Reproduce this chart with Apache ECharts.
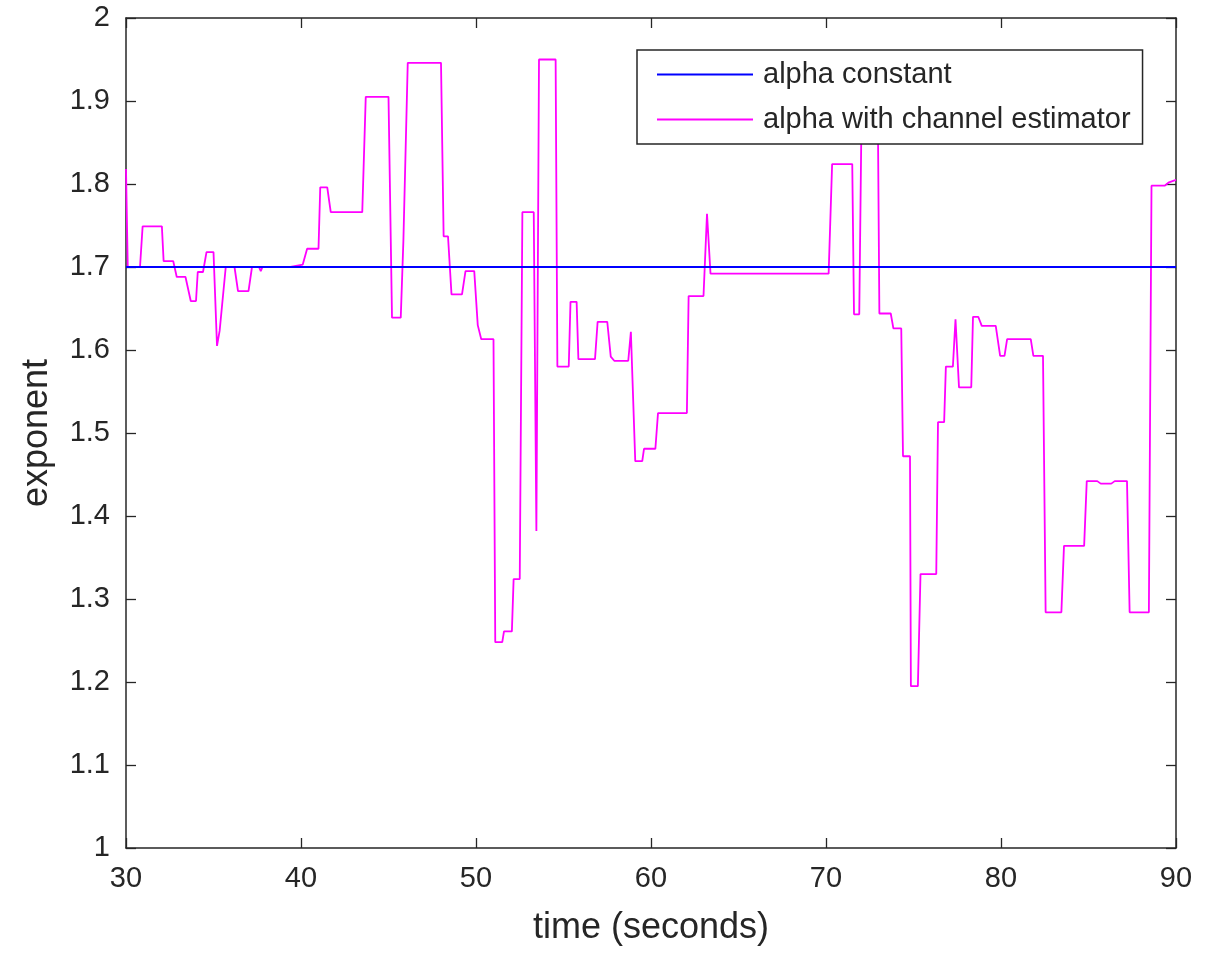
<!DOCTYPE html>
<html>
<head>
<meta charset="utf-8">
<title>exponent vs time</title>
<script src="https://cdn.jsdelivr.net/npm/echarts@6/dist/echarts.min.js"></script>
<style>
  html, body { margin: 0; padding: 0; background: #fff; }
  #main { width: 1217px; height: 953px; }
</style>
</head>
<body>
<div id="main"></div>
<script>
// time axis (seconds) and estimated exponent
const timeSec = [
  30.0, 30.1, 30.8, 30.95, 32.05, 32.15, 32.7, 32.9, 33.4, 33.7,
  34.0, 34.1, 34.4, 34.6, 35.0, 35.2, 35.35, 35.7, 36.2, 36.4,
  37.0, 37.2, 37.6, 37.7, 37.8, 39.4, 40.1, 40.35, 41.0, 41.1,
  41.5, 41.7, 43.5, 43.7, 45.0, 45.2, 45.7, 45.85, 46.1, 48.0,
  48.15, 48.4, 48.6, 49.2, 49.4, 49.9, 50.1, 50.3, 51.0, 51.1,
  51.5, 51.6, 52.05, 52.15, 52.5, 52.65, 53.3, 53.45, 53.6, 54.55,
  54.65, 55.3, 55.4, 55.75, 55.85, 56.8, 56.95, 57.5, 57.7, 57.9,
  58.7, 58.85, 58.95, 59.1, 59.5, 59.6, 60.25, 60.4, 62.05, 62.15,
  63.0, 63.2, 63.4, 70.15, 70.35, 71.5, 71.6, 71.9, 72.05, 72.95,
  73.05, 73.7, 73.85, 74.3, 74.4, 74.8, 74.85, 75.25, 75.4, 76.3,
  76.4, 76.75, 76.85, 77.25, 77.4, 77.6, 78.3, 78.4, 78.7, 78.9,
  79.7, 79.95, 80.2, 80.35, 81.7, 81.85, 82.4, 82.55, 83.45, 83.6,
  84.75, 84.9, 85.5, 85.7, 86.3, 86.5, 87.2, 87.35, 88.45, 88.6,
  89.35, 89.6, 90.0
];
const alphaEst = [
  1.818, 1.700, 1.700, 1.749, 1.749, 1.707, 1.707, 1.688, 1.688, 1.659,
  1.659, 1.694, 1.694, 1.718, 1.718, 1.605, 1.623, 1.700, 1.700, 1.671,
  1.671, 1.700, 1.700, 1.695, 1.700, 1.700, 1.703, 1.722, 1.722, 1.796,
  1.796, 1.766, 1.766, 1.905, 1.905, 1.639, 1.639, 1.731, 1.946, 1.946,
  1.737, 1.737, 1.667, 1.667, 1.695, 1.695, 1.630, 1.613, 1.613, 1.248,
  1.248, 1.261, 1.261, 1.324, 1.324, 1.766, 1.766, 1.382, 1.950, 1.950,
  1.580, 1.580, 1.658, 1.658, 1.589, 1.589, 1.634, 1.634, 1.592, 1.587,
  1.587, 1.622, 1.622, 1.466, 1.466, 1.481, 1.481, 1.524, 1.524, 1.665,
  1.665, 1.764, 1.692, 1.692, 1.824, 1.824, 1.643, 1.643, 1.920, 1.920,
  1.644, 1.644, 1.626, 1.626, 1.472, 1.472, 1.195, 1.195, 1.330, 1.330,
  1.513, 1.513, 1.580, 1.580, 1.637, 1.555, 1.555, 1.640, 1.640, 1.629,
  1.629, 1.593, 1.593, 1.613, 1.613, 1.593, 1.593, 1.284, 1.284, 1.364,
  1.364, 1.442, 1.442, 1.439, 1.439, 1.442, 1.442, 1.284, 1.284, 1.798,
  1.798, 1.802, 1.805
];
const constTime = [30, 90];
const constAlpha = [1.7, 1.7];

const seriesNames = ['alpha constant', 'alpha with channel estimator'];
const xRange = [30, 90];   // ticks every 10 s
const yRange = [1, 2];     // ticks every 0.1

const zip = (xs, ys) => xs.map((x, i) => [x, ys[i]]);

const ink = '#262626';
const font = "'Liberation Sans', Arial, Helvetica, sans-serif";

const chart = echarts.init(document.getElementById('main'), null, { renderer: 'canvas' });

const axisCommon = {
  axisLine: { show: true, onZero: false, lineStyle: { color: ink, width: 1.5 } },
  axisTick: { show: true, inside: true, length: 10, lineStyle: { color: ink, width: 1.3 } },
  splitLine: { show: false }
};

const option = {
  animation: false,
  backgroundColor: '#fff',
  textStyle: { fontFamily: font },
  grid: { left: 126, right: 41, top: 18, bottom: 105, containLabel: false },
  legend: {
    orient: 'vertical',
    left: 637,
    top: 50,
    padding: [10, 12, 10, 20],
    icon: 'rect',
    itemWidth: 96,
    itemHeight: 2,
    itemGap: 16,
    backgroundColor: '#fff',
    borderColor: ink,
    borderWidth: 1.5,
    borderRadius: 0,
    textStyle: { fontSize: 29, color: ink, fontFamily: font, padding: [0, 0, 0, 5] },
    data: seriesNames,
    z: 10
  },
  xAxis: [
    Object.assign({
      type: 'value', min: xRange[0], max: xRange[1], interval: 10,
      position: 'bottom',
      name: 'time (seconds)', nameLocation: 'middle', nameGap: 62,
      nameTextStyle: { fontSize: 36, color: ink, fontFamily: font },
      axisLabel: { fontSize: 29, color: ink, margin: 16, fontFamily: font }
    }, axisCommon),
    Object.assign({
      type: 'value', min: xRange[0], max: xRange[1], interval: 10,
      position: 'top', axisLabel: { show: false }
    }, axisCommon)
  ],
  yAxis: [
    Object.assign({
      type: 'value', min: yRange[0], max: yRange[1], interval: 0.1,
      position: 'left',
      name: 'exponent', nameLocation: 'middle', nameGap: 71,
      nameTextStyle: { fontSize: 36, color: ink, fontFamily: font },
      axisLabel: { fontSize: 29, color: ink, margin: 16, fontFamily: font }
    }, axisCommon),
    Object.assign({
      type: 'value', min: yRange[0], max: yRange[1], interval: 0.1,
      position: 'right', axisLabel: { show: false }
    }, axisCommon)
  ],
  series: [
    {
      name: seriesNames[0],
      type: 'line',
      xAxisIndex: 0, yAxisIndex: 0,
      symbol: 'none',
      data: zip(constTime, constAlpha),
      lineStyle: { color: '#0000ff', width: 2 },
      itemStyle: { color: '#0000ff' },
      z: 3
    },
    {
      name: seriesNames[1],
      type: 'line',
      xAxisIndex: 0, yAxisIndex: 0,
      symbol: 'none',
      data: zip(timeSec, alphaEst),
      lineStyle: { color: '#ff00ff', width: 1.8 },
      itemStyle: { color: '#ff00ff' },
      z: 2
    }
  ]
};

chart.setOption(option);
window.addEventListener('resize', () => chart.resize());
</script>
</body>
</html>
